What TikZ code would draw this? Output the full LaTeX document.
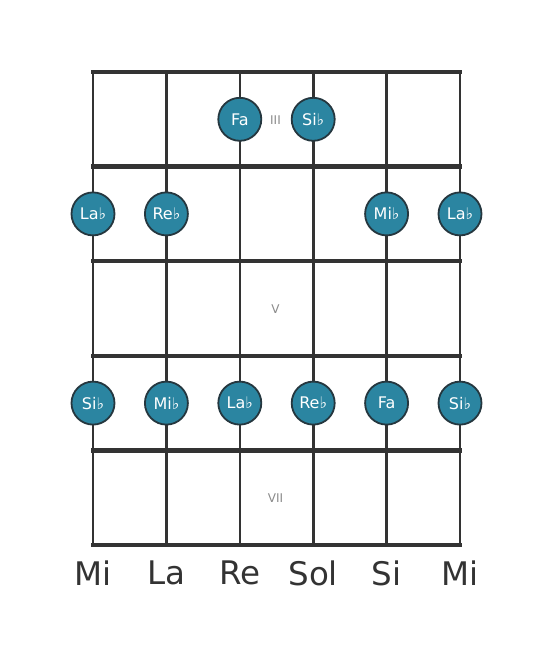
\documentclass[tikz,border=0pt]{standalone}
\usepackage{fontspec}
\setmainfont{DejaVu Sans}
\definecolor{notefill}{HTML}{2B85A1}
\definecolor{noteedge}{HTML}{25373F}
\definecolor{gridcol}{HTML}{333333}
\definecolor{fretnum}{HTML}{8A8A8A}
\newcommand{\flt}{♭}
\tikzset{
    note/.style={circle, draw=noteedge, line width=1.8pt, fill=notefill, minimum size=43pt, inner sep=0pt, text=white, font=\fontsize{16}{16}\selectfont},
    fretlabel/.style={text=fretnum, font=\fontsize{12}{12}\selectfont},
    stringname/.style={text=gridcol, font=\fontsize{32.5}{34}\selectfont}
}
\begin{document}
\begin{tikzpicture}[x=1pt, y=-1pt]
    \useasboundingbox (0,0) rectangle (553,656);
    % Strings
    \foreach \s in {0,...,5}
    {
    \draw[gridcol, line width=2.6pt] (93+\s*73.4,72) -- (93+\s*73.4,545);
    }
    % Frets
    \foreach \f in {0,...,5}
    {
    \draw[gridcol, line width=4.5pt] (91,72+\f*94.6) -- (462,72+\f*94.6);
    }
    % Fret numbers
    \node[fretlabel] (III) at (275.5,120) {III};
    \node[fretlabel] (V) at (275.5,309) {V};
    \node[fretlabel] (VII) at (275.5,498) {VII};
    % Notes
    \node[note] (fa1) at (239.8,119.3) {Fa};
    \node[note] (sib1) at (313.2,119.3) {Si\flt};
    \node[note] (lab1) at (93,213.9) {La\flt};
    \node[note] (reb1) at (166.4,213.9) {Re\flt};
    \node[note] (mib1) at (386.6,213.9) {Mi\flt};
    \node[note] (lab2) at (460,213.9) {La\flt};
    \node[note] (sib2) at (93,403.1) {Si\flt};
    \node[note] (mib2) at (166.4,403.1) {Mi\flt};
    \node[note] (lab3) at (239.8,403.1) {La\flt};
    \node[note] (reb2) at (313.2,403.1) {Re\flt};
    \node[note] (fa2) at (386.6,403.1) {Fa};
    \node[note] (sib3) at (460,403.1) {Si\flt};
    % String names
    \node[stringname] (mi1) at (93,573) {Mi};
    \node[stringname] (la) at (166.4,573) {La};
    \node[stringname] (re) at (239.8,573) {Re};
    \node[stringname] (sol) at (313.2,573) {Sol};
    \node[stringname] (si) at (386.6,573) {Si};
    \node[stringname] (mi2) at (460,573) {Mi};
\end{tikzpicture}
\end{document}
